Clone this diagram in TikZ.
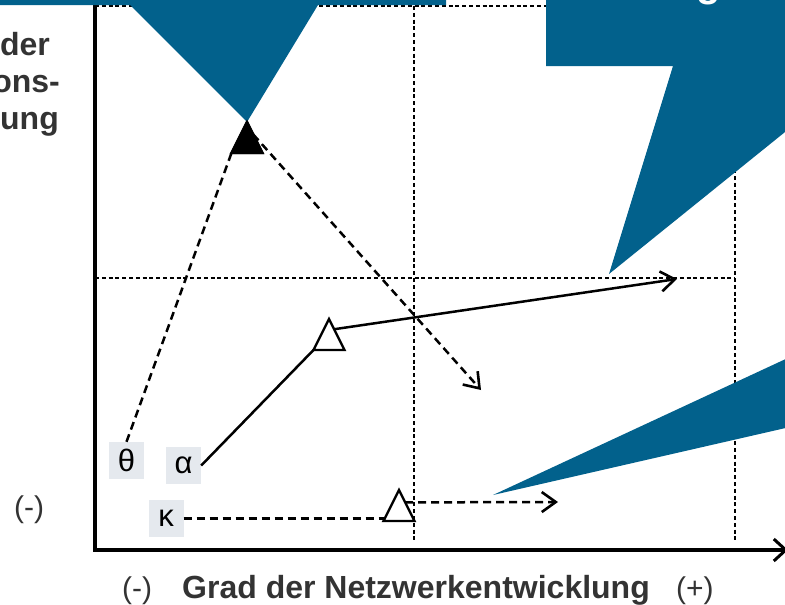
\documentclass[tikz,border=0pt]{standalone}
\usepackage{fontspec}
\setmainfont{Liberation Sans}
\usetikzlibrary{arrows.meta,shapes.geometric,calc}
\definecolor{slideblue}{RGB}{2,97,140}
\definecolor{txtgray}{RGB}{51,51,51}
\definecolor{boxgray}{RGB}{229,233,238}
\tikzset{
  gridline/.style={line width=1.5pt, dash pattern=on 4pt off 2.8pt},
  conn/.style={line width=2.5pt},
  dconn/.style={conn, dash pattern=on 8pt off 5pt},
  tipend/.style={-{Straight Barb[length=14pt,width=20pt,line width=2.6pt]}},
  marker/.style={isosceles triangle, isosceles triangle stretches, shape border rotate=90,
    minimum width=31pt, minimum height=31pt, inner sep=0pt, outer sep=0pt, draw, line width=2.3pt,
    fill=white, anchor=apex},
  greek/.style={fill=boxgray, minimum width=35pt, minimum height=37pt, inner sep=0pt,
    font=\fontsize{31}{34}\selectfont, text=black},
  blueshape/.style={fill=slideblue, draw=none},
  boldlbl/.style={text=txtgray, inner sep=0pt, font=\bfseries\fontsize{32}{38}\selectfont},
  plainlbl/.style={text=txtgray, inner sep=0pt, font=\fontsize{30}{34}\selectfont},
}
\begin{document}
\begin{tikzpicture}[x=1pt,y=-1pt]
\useasboundingbox (0,0) rectangle (785,605);

% grid lines
\draw[gridline] (95,6) -- (735,6);
\draw[gridline] (95,278) -- (735,278);
\draw[gridline] (414,6) -- (414,543);
\draw[gridline] (735,6) -- (735,543);

% axes
\draw[line width=3.8pt, line join=miter, -{Straight Barb[length=12pt,width=22pt,line width=3pt]}]
  (95,-5) -- (95,550) -- (788,550);

% markers (nodes)
\node[marker, fill=black] (t1) at (247,122) {};
\node[marker] (t2) at (329,319) {};
\node[marker] (t3) at (399,490) {};

% label boxes
\node[greek] (th) at (126.5,460.5) {θ};
\node[greek] (al) at (183.5,465.5) {α};
\node[greek] (ka) at (166,518.5) {κ};

% free ends of arrows
\coordinate (a1) at (481,390);
\coordinate (a2) at (677,279);
\coordinate (a3) at (558,502);

% connectors
\draw[dconn] (th.north) -- (t1.left corner);
\draw[dconn, tipend] ($(t1.apex)!0.4!(t1.right corner)$) -- (a1);
\draw[conn] (al.east) -- (t2.left corner);
\draw[conn, tipend] ($(t2.apex)!0.33!(t2.right corner)$) -- (a2);
\draw[dconn] (ka.east) -- (ka.east -| t3.left corner);
\draw[dconn, tipend] ($(t3.apex)!0.4!(t3.right corner)$) -- (a3);

% blue callout shapes
\fill[blueshape] (0,-10) -- (446,-10) -- (446,5) -- (318,5) -- (247,122) -- (130,5) -- (0,5) -- cycle;
\fill[blueshape] (546,-10) -- (790,-10) -- (790,128) -- (609,274) -- (673,66) -- (546,66) -- cycle;
\fill[blueshape] (493,495) -- (790,357) -- (790,427) -- cycle;
\node[anchor=base west, text=white, inner sep=0pt, font=\bfseries\fontsize{40}{40}\selectfont] (gtxt) at (696,-3.5) {g};

% filled marker again, on top of the blue tip
\node[marker, fill=black] at (247,122) {};

% texts
\node[boldlbl, anchor=base east] (y1) at (50,55) {der};
\node[boldlbl, anchor=base east] (y2) at (60,92) {ons-};
\node[boldlbl, anchor=base east] (y3) at (59,129) {ung};
\node[plainlbl, anchor=base west] (ym) at (14,517) {(-)};
\node[plainlbl, anchor=base west] (xm) at (122,598) {(-)};
\node[boldlbl, anchor=base west] (xl) at (182,598) {Grad der Netzwerkentwicklung};
\node[plainlbl, anchor=base west] (xp) at (676,598) {(+)};
\end{tikzpicture}
\end{document}
